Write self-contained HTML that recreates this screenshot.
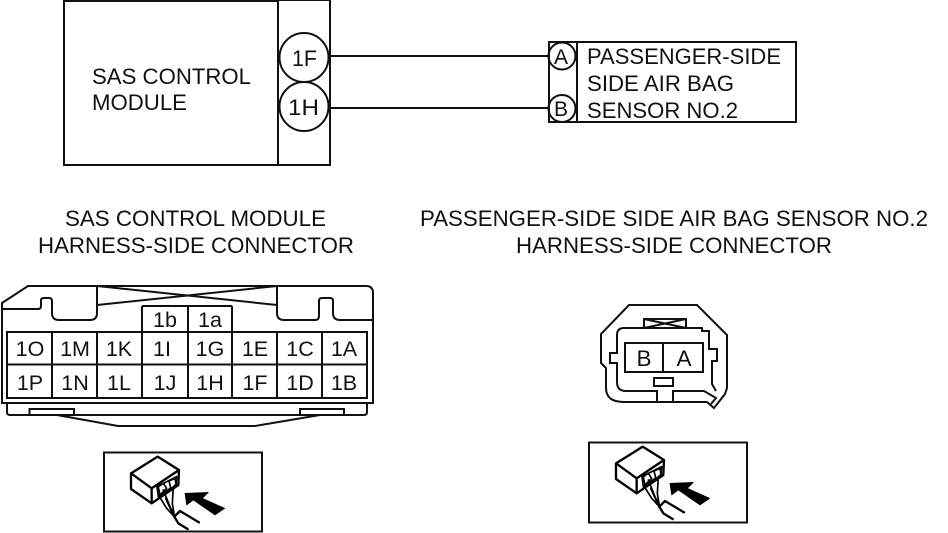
<!DOCTYPE html>
<html><head><meta charset="utf-8"><style>
html,body{margin:0;padding:0;background:#fff}
svg{display:block}
text{font-family:"Liberation Sans",sans-serif;fill:#111}
</style></head><body>
<svg width="948" height="533" viewBox="0 0 948 533" xmlns="http://www.w3.org/2000/svg">
<defs>
<g id="icon" fill="none" stroke="#000" stroke-linejoin="round" stroke-linecap="round">
<path d="M108 85L188 35L252 75L170 130ZM108 85V132L170 175V130M252 75L250 120L170 175" stroke-width="7" fill="#fff"/>
<path d="M186 125L245 95L243 118L190 155Z" stroke-width="5" fill="#fff"/>
<path d="M190 125L205 115L215 130L195 150ZM222 108L240 100L243 118L228 132Z" stroke-width="5" fill="#fff"/>
<path d="M190 150L215 190L238 215M205 135L225 185L238 212M235 125L232 175L238 212M212 160L238 218" stroke-width="5"/>
<path d="M312 232L255 198L238 215L250 235L278 252" stroke-width="7"/>
<path d="M270 145L340 142L322 160L389 190L360 210L295 165L275 180Z" fill="#000" stroke="#000" stroke-width="2"/>
</g>
</defs>

<g fill="none" stroke="#111" stroke-width="2">
<path d="M64 166V0H330V165H64M278 0V165" />
<path d="M64 0.5H278" stroke-width="3"/>
<circle cx="304" cy="57.500" r="24.500"/>
<circle cx="304" cy="106.500" r="24.500"/>
<path d="M329 56H549M329 108H549"/>
<rect x="549" y="42" width="247" height="80"/>
<path d="M577 42V122"/>
<circle cx="562" cy="56" r="13.500"/>
<circle cx="562" cy="108.500" r="13.500"/>

<!-- left connector -->
<path d="M2 303L28 286H366Q373 286 373 293V403H2Z"/>
<path d="M2 309H38Q41 309 41 306V300Q41 298 44 298H49Q52 298 52 301V313Q52 320 59 320H90Q97 320 97 313V286"/>
<path d="M277 286V313Q277 320 284 320H315Q319 320 319 316V301Q319 298 322 298H330Q333 298 333 301V313Q333 320 340 320H373"/>
<path d="M97 286L277 305M97 305L277 286"/>
<path d="M142 306H232M142 306V332M188 306V332M232 306V332"/>
<rect x="7" y="332" width="360" height="66"/>
<path d="M7 364.500H367M52 332V398M97 332V398M142 332V398M188 332V398M232 332V398M277 332V398M322 332V398"/>
<path d="M7 403V412Q7 415 10 415H364Q367 415 367 412V403"/>
<path d="M29.500 415V409H74V415M300 415V409H344V415"/>
<path d="M57 415L118 426H255L320 415"/>

<!-- right connector -->
<path d="M629 305H697L727 335V388L725 394L714 408L707 402H624Q606 402 606 388V368L601 363V334Z"/>
<path d="M644 328H624Q617 328 617 335V353H610V363H617V382Q617 391 626 391H657V402H673V391H704L716 398L711 404"/>
<path d="M686 328H702V331H709V349H717V361H712V384L716 391"/>
<path d="M644 328V319H686V328Z"/>
<path d="M644 319L686 328M644 328L686 319"/>
<rect x="625" y="343" width="78" height="29"/>
<path d="M663 343V372"/>
<rect x="654" y="378" width="19" height="8"/>

<rect x="104" y="452.500" width="158" height="79"/>
<rect x="589" y="442.500" width="158" height="80"/>
</g>

<use href="#icon" transform="translate(95 445) scale(.3333)"/>
<use href="#icon" transform="translate(580 435) scale(.3333)"/>

<g font-size="22.500">
<text x="292" y="66" textLength="25" lengthAdjust="spacingAndGlyphs">1F</text>
<text x="288" y="115" textLength="31" lengthAdjust="spacingAndGlyphs">1H</text>
<text x="554" y="64" font-size="21">A</text>
<text x="554" y="116" font-size="21">B</text>
<text x="92" y="84" textLength="159" lengthAdjust="spacingAndGlyphs">SAS CONTROL</text>
<text x="92" y="110" textLength="95" lengthAdjust="spacingAndGlyphs">MODULE</text>
<text x="587" y="64" textLength="194" lengthAdjust="spacingAndGlyphs">PASSENGER-SIDE</text>
<text x="587" y="91" textLength="147" lengthAdjust="spacingAndGlyphs">SIDE AIR BAG</text>
<text x="587" y="118" textLength="151" lengthAdjust="spacingAndGlyphs">SENSOR NO.2</text>
<text x="65" y="226" textLength="261" lengthAdjust="spacingAndGlyphs">SAS CONTROL MODULE</text>
<text x="38" y="253" textLength="316" lengthAdjust="spacingAndGlyphs">HARNESS-SIDE CONNECTOR</text>
<text x="420" y="226" textLength="508" lengthAdjust="spacingAndGlyphs">PASSENGER-SIDE SIDE AIR BAG SENSOR NO.2</text>
<text x="516" y="253" textLength="316" lengthAdjust="spacingAndGlyphs">HARNESS-SIDE CONNECTOR</text>
</g>

<g font-size="21.500" text-anchor="middle">
<text x="165" y="327">1b</text><text x="210" y="327">1a</text>
<text x="30" y="356">1O</text><text x="75" y="356">1M</text><text x="119" y="356">1K</text><text x="162" y="356">1I</text><text x="210" y="356">1G</text><text x="255" y="356">1E</text><text x="300" y="356">1C</text><text x="344" y="356">1A</text>
<text x="30" y="390">1P</text><text x="75" y="390">1N</text><text x="119" y="390">1L</text><text x="165" y="390">1J</text><text x="210" y="390">1H</text><text x="255" y="390">1F</text><text x="300" y="390">1D</text><text x="344" y="390">1B</text>
<text x="644" y="366" font-size="22.500">B</text><text x="684" y="366" font-size="22.500">A</text>
</g>
</svg>
</body></html>
